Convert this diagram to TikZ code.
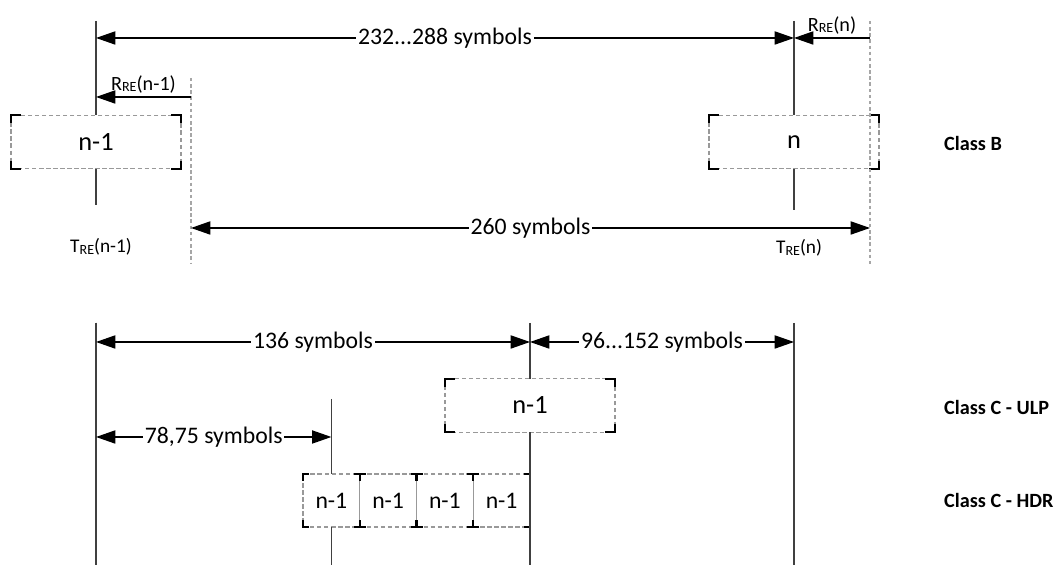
\documentclass[tikz,border=0pt]{standalone}
\usepackage{fontspec}
\setmainfont{Carlito}
\usetikzlibrary{arrows.meta,positioning}

\tikzset{
  tline/.style={black!75, line width=0.7pt},
  guide/.style={black!35, line width=0.6pt, dash pattern=on 2pt off 1.5pt},
  dim/.style={{Triangle[length=11pt,width=7.5pt]}-{Triangle[length=11pt,width=7.5pt]}, line width=0.7pt},
  dimto/.style={-{Triangle[length=11pt,width=7.5pt]}, line width=0.7pt},
  dimlabel/.style={fill=white, inner sep=1pt, font=\fontsize{13.5}{15}\selectfont},
  relabel/.style={inner sep=2pt, font=\fontsize{11.5}{13}\selectfont},
  tlabel/.style={inner sep=1pt, font=\fontsize{11}{13}\selectfont},
  slot/.style={draw=black!40, dash pattern=on 2.5pt off 1.5pt, line width=0.6pt,
    minimum width=3.4cm, minimum height=1.07cm, inner sep=0pt, outer sep=0pt,
    font=\fontsize{15}{17}\selectfont},
  minislot/.style={slot, minimum width=1.135cm, minimum height=1.06cm,
    font=\fontsize{13.5}{15}\selectfont},
  corner/.style={black, line width=1.3pt},
  classlabel/.style={anchor=west, font=\bfseries\fontsize{11.5}{13}\selectfont},
}

% black corner marks of a slot: node, horizontal arm, vertical arm
\newcommand\slotcorners[3]{%
  \draw[corner] ([xshift=#2]#1.north west) -- (#1.north west) -- ([yshift=-#3]#1.north west);
  \draw[corner] ([xshift=-#2]#1.north east) -- (#1.north east) -- ([yshift=-#3]#1.north east);
  \draw[corner] ([xshift=#2]#1.south west) -- (#1.south west) -- ([yshift=#3]#1.south west);
  \draw[corner] ([xshift=-#2]#1.south east) -- (#1.south east) -- ([yshift=#3]#1.south east);
}
\newcommand\sRE{\raisebox{-0.2ex}{\fontsize{8}{9}\selectfont RE}}

\begin{document}
\begin{tikzpicture}
    \useasboundingbox (0,0) rectangle (21.1,11.3);
    % Class B
    \coordinate (ltop) at (1.92,10.88);
    \coordinate (lbot) at (1.92,7.2);
    \coordinate (rtop) at (15.88,10.88);
    \coordinate (rbot) at (15.88,7.1);
    \coordinate (g1top) at (3.82,9.74);
    \coordinate (g1bot) at (3.82,6.04);
    \coordinate (g2top) at (17.4,10.88);
    \coordinate (g2bot) at (17.4,5.96);
    \node[slot] (prev) at (1.92,8.46) {n-1};
    \node[slot] (cur) at (15.88,8.46) {n};
    \slotcorners{prev}{0.2cm}{0.16cm}
    \slotcorners{cur}{0.2cm}{0.16cm}
    \draw[tline] (ltop) -- (prev.north);
    \draw[tline] (prev.south) -- (lbot);
    \draw[tline] (rtop) -- (cur.north);
    \draw[tline] (cur.south) -- (rbot);
    \draw[guide] (g1top) -- (g1bot);
    \draw[guide] (g2top) -- (g2bot);
    \coordinate (a1) at (1.92,10.54);
    \coordinate (a2) at (15.88,10.54);
    \coordinate (a3) at (17.4,10.54);
    \coordinate (b1) at (3.82,9.36);
    \coordinate (b2) at (1.92,9.36);
    \coordinate (c1) at (3.82,6.74);
    \coordinate (c2) at (17.4,6.74);
    \draw[dim] (a1) -- (a2) node[midway, dimlabel] {232...288 symbols};
    \draw[dimto] (a3) -- (a2) node[midway, above, relabel] {R\sRE(n)};
    \draw[dimto] (b1) -- (b2) node[midway, above, relabel] {R\sRE(n-1)};
    \draw[dim] (c1) -- (c2) node[midway, dimlabel] {260 symbols};
    \node[tlabel] (tprev) at (2.02,6.36) {T\sRE(n-1)};
    \node[tlabel] (tcur) at (15.98,6.34) {T\sRE(n)};
    \node[classlabel] (classb) at (18.76,8.44) {Class B};

    % Class C
    \coordinate (m1top) at (1.92,4.84);
    \coordinate (m1bot) at (1.92,0);
    \coordinate (m2top) at (10.6,4.84);
    \coordinate (m2bot) at (10.6,0);
    \coordinate (m3top) at (15.88,4.84);
    \coordinate (m3bot) at (15.88,0);
    \coordinate (htop) at (6.6275,3.32);
    \coordinate (hbot) at (6.6275,0);
    \node[slot] (ulp) at (10.6,3.19) {n-1};
    \slotcorners{ulp}{0.2cm}{0.16cm}
    \node[minislot] (h1) at (6.6275,1.29) {n-1};
    \foreach \i [remember=\i as \j (initially 1)] in {2,3,4}
        \node[minislot, right=0pt of h\j] (h\i) {n-1};
    \foreach \b in {h1,h2,h3,h4}
        \slotcorners{\b}{0.12cm}{0.14cm}
    \draw[tline] (m1top) -- (m1bot);
    \draw[tline] (m2top) -- (ulp.north);
    \draw[tline] (ulp.south) -- (m2bot);
    \draw[tline] (m3top) -- (m3bot);
    \draw[tline] (htop) -- (h1.north);
    \draw[tline] (h1.south) -- (hbot);
    \coordinate (d1) at (1.92,4.46);
    \coordinate (d2) at (10.6,4.46);
    \coordinate (d3) at (15.88,4.46);
    \coordinate (e1) at (1.92,2.56);
    \coordinate (e2) at (6.6275,2.56);
    \draw[dim] (d1) -- (d2) node[midway, dimlabel] {136 symbols};
    \draw[dim] (d2) -- (d3) node[midway, dimlabel] {96...152 symbols};
    \draw[dim] (e1) -- (e2) node[midway, dimlabel] {78,75 symbols};
    \node[classlabel] (classulp) at (18.76,3.16) {Class C - ULP};
    \node[classlabel] (classhdr) at (18.76,1.3) {Class C - HDR};
\end{tikzpicture}
\end{document}
